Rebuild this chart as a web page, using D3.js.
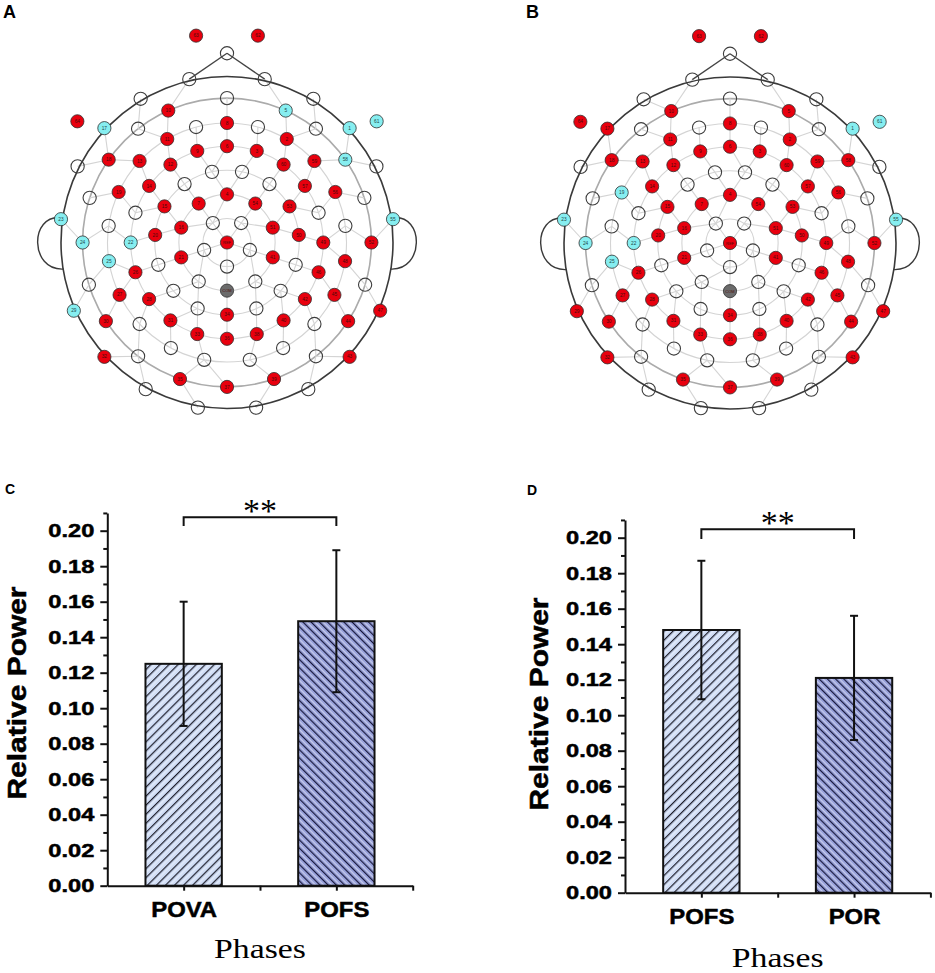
<!DOCTYPE html>
<html>
<head>
<meta charset="utf-8">
<script src="https://cdn.jsdelivr.net/npm/d3@7"></script>
<style>
  body { margin: 0; background: #fff; }
  svg { display: block; }
</style>
</head>
<body>
<div id="fig"></div>
<script>
const W = 935, H = 973;

// ---- electrode montage (ring index -> [label, angle in degrees from nose, clockwise]) ----
const ringRadius = [0, 0.145, 0.29, 0.435, 0.58, 0.72, 0.87, 1.01];
const ring0 = [["REF", 0]];
const ring1 = [["", -36], ["", 36], ["", 108], ["", 180], ["", -108]];
const ring2 = [["4", 0], ["54", 36], ["51", 72], ["41", 108], ["", 144], ["COM", 180],
  ["", -144], ["21", -108], ["16", -72], ["7", -36]];
const ring3 = [["", 12], ["", 36], ["53", 60], ["50", 84], ["", 108], ["", 132], ["", 156],
  ["34", 180], ["", -156], ["", -132], ["", -108], ["20", -84], ["15", -60], ["", -36], ["", -12]];
const ring4 = [["6", 0], ["3", 18], ["60", 36], ["57", 54], ["", 72], ["49", 90], ["46", 108],
  ["42", 126], ["40", 144], ["38", 162], ["36", 180], ["33", -162], ["31", -144], ["28", -126],
  ["26", -108], ["22", -90], ["", -72], ["14", -54], ["12", -36], ["9", -18]];
const ring5 = [["8", 0], ["", 15], ["2", 30], ["59", 47], ["56", 65], ["", 82], ["48", 99],
  ["45", 116], ["", 133], ["", 152], ["", 169], ["", -169], ["", -152], ["", -133], ["27", -116],
  ["25", -99], ["", -82], ["19", -65], ["13", -47], ["11", -30], ["", -15]];
const ring6 = [["", 0], ["5", 24], ["", 38], ["58", 55], ["", 72], ["52", 90], ["", 107],
  ["44", 123], ["", 142], ["39", 161], ["37", 180], ["35", -161], ["", -142], ["30", -123],
  ["", -107], ["24", -90], ["", -72], ["18", -55], ["", -38], ["10", -24]];
const ring7 = [["", 13], ["", 31], ["1", 47], ["", 63], ["55", 82], ["47", 114], ["43", 133],
  ["", 151], ["", 170], ["", -170], ["", -151], ["32", -133], ["29", -114], ["23", -82],
  ["", -63], ["17", -47], ["", -31], ["", -13]];
// sites outside the head: [label, angle, radius]
const outerSites = [["", 0, 1.14], ["62", 8.5, 1.26], ["63", -8.5, 1.26], ["61", 51, 1.16], ["64", -51, 1.16]];

// electrodes marked cyan in each map (all other numbered sites are red)
const cyanA = ["1", "5", "17", "22", "23", "24", "25", "29", "55", "58", "61"];
const cyanB = ["1", "19", "22", "23", "24", "25", "55", "61"];

// ---- bar data ----
const phasesC = ["POVA", "POFS"];
const powerC = [0.125, 0.149];
const sdC = [0.035, 0.040];
const phasesD = ["POFS", "POR"];
const powerD = [0.148, 0.121];
const sdD = [0.039, 0.035];
const yTickVals = [0, 0.02, 0.04, 0.06, 0.08, 0.10, 0.12, 0.14, 0.16, 0.18, 0.20];
const yMinorVals = [0.01, 0.03, 0.05, 0.07, 0.09, 0.11, 0.13, 0.15, 0.17, 0.19, 0.21];

const svg = d3.select("#fig").append("svg").attr("width", W).attr("height", H);

const rings = [ring0, ring1, ring2, ring3, ring4, ring5, ring6, ring7];
const sites = [];
rings.forEach((ring, k) => ring.forEach(([label, angle]) =>
  sites.push({ label, angle, r: ringRadius[k], ring: k })));
outerSites.forEach(([label, angle, r]) => sites.push({ label, angle, r, ring: 8 }));

function drawHead(cx, cy, cyan, letter, lx) {
  const R = 166;
  const hx = d3.scaleLinear().domain([-1, 1]).range([cx - R, cx + R]);
  const hy = d3.scaleLinear().domain([-1, 1]).range([cy - R, cy + R]);
  const px = (d) => hx(d.r * Math.sin(d.angle * Math.PI / 180));
  const py = (d) => hy(-d.r * Math.cos(d.angle * Math.PI / 180));
  const g = svg.append("g");

  g.selectAll("circle.ring")
    .data(ringRadius.slice(1, 7))
    .enter().append("circle")
    .attr("cx", hx(0)).attr("cy", hy(0))
    .attr("r", (r) => hx(r) - hx(0))
    .attr("fill", "none")
    .attr("stroke", (r, i) => i === 5 ? "#ababab" : "#d4d4d4")
    .attr("stroke-width", (r, i) => i === 5 ? 1.6 : 1.1);

  // spokes: every site to the closest site of the ring just inside it
  const links = [];
  sites.filter((s) => s.ring >= 1 && s.ring <= 7).forEach((s) => {
    let best = null, bd = Infinity;
    sites.filter((t) => t.ring === s.ring - 1).forEach((t) => {
      const dd = Math.hypot(px(s) - px(t), py(s) - py(t));
      if (dd < bd) { bd = dd; best = t; }
    });
    links.push([s, best]);
  });
  g.selectAll("line.spoke")
    .data(links)
    .enter().append("line")
    .attr("x1", (d) => px(d[0])).attr("y1", (d) => py(d[0]))
    .attr("x2", (d) => px(d[1])).attr("y2", (d) => py(d[1]))
    .attr("stroke", "#d4d4d4").attr("stroke-width", 1.1);

  // nose
  const nose = sites.find((s) => s.ring === 8 && s.label === "");
  const noseFeet = sites.filter((s) => s.ring === 7 && Math.abs(s.angle) === 13);
  g.selectAll("line.nose")
    .data(noseFeet)
    .enter().append("line")
    .attr("x1", (d) => px(d)).attr("y1", (d) => py(d))
    .attr("x2", px(nose)).attr("y2", py(nose))
    .attr("stroke", "#444").attr("stroke-width", 1.3);

  g.append("circle")
    .attr("cx", hx(0)).attr("cy", hy(0)).attr("r", R)
    .attr("fill", "none").attr("stroke", "#3a3a3a").attr("stroke-width", 1.6);

  [-1, 1].forEach((side) => {
    const p = d3.path();
    p.moveTo(hx(side * 1.0), hy(-0.15));
    p.bezierCurveTo(hx(side * 1.19), hy(-0.17), hx(side * 1.19), hy(0.17), hx(side * 0.985), hy(0.16));
    g.append("path").attr("d", p.toString())
      .attr("fill", "none").attr("stroke", "#3a3a3a").attr("stroke-width", 1.4);
  });

  const fillOf = (d) => {
    if (d.label === "") return "none";
    if (d.label === "COM") return "#6b6b6b";
    return cyan.includes(d.label) ? "#86eef0" : "#e8000e";
  };

  g.selectAll("circle.site")
    .data(sites)
    .enter().append("circle")
    .attr("cx", px).attr("cy", py).attr("r", 6.6)
    .attr("fill", fillOf)
    .attr("stroke", (d) => d.label === "" ? "#3d3d3d" : "#2e2e2e")
    .attr("stroke-width", (d) => d.label === "" ? 1.1 : 0.8);

  g.selectAll("text.site")
    .data(sites.filter((s) => s.label !== ""))
    .enter().append("text")
    .attr("x", px).attr("y", (d) => py(d) + 1.6)
    .attr("text-anchor", "middle")
    .attr("font-family", "Liberation Sans, Arial, sans-serif")
    .attr("font-size", (d) => d.label.length > 2 ? 4 : 4.8)
    .attr("fill", (d) => cyan.includes(d.label) ? "#1d4a4c" : "#4a0a0a")
    .text((d) => d.label);

  svg.append("text")
    .attr("x", lx).attr("y", 18)
    .attr("font-family", "Liberation Sans, Arial, sans-serif")
    .attr("font-weight", "bold").attr("font-size", 18)
    .text(letter);
}

drawHead(227, 242.5, cyanA, "A", 3);
drawHead(730, 243, cyanB, "B", 526);

// ---- hatch patterns ----
const defs = svg.append("defs");
function hatch(id, bg, ink, size, angle) {
  const p = defs.append("pattern").attr("id", id)
    .attr("patternUnits", "userSpaceOnUse")
    .attr("width", size).attr("height", size)
    .attr("patternTransform", `rotate(${angle})`);
  p.append("rect").attr("width", size).attr("height", size).attr("fill", bg);
  p.append("line").attr("x1", size * 0.55).attr("x2", size * 0.55).attr("y1", 0).attr("y2", size)
    .attr("stroke", "#ffffff").attr("stroke-width", 1).attr("opacity", 0.55);
  p.append("line").attr("x1", 0.6).attr("x2", 0.6).attr("y1", 0).attr("y2", size)
    .attr("stroke", ink).attr("stroke-width", 1.2);
}
hatch("hatchLight", "#cfdcf5", "#1e1e2a", 6.4, 45);
hatch("hatchDark", "#98a1da", "#16163a", 5.8, -45);

function stretch(sel, k) {
  sel.each(function () {
    const w = this.getComputedTextLength();
    d3.select(this).attr("textLength", w * k).attr("lengthAdjust", "spacingAndGlyphs");
  });
}

function drawBars(o) {
  const g = svg.append("g");
  const y = d3.scaleLinear().domain([0, 0.21]).range([o.base, o.base - 372.75]);
  const x = d3.scaleLinear().domain([0.5, 2.5]).range([o.left, o.left + 305.4]);
  const idx = [1, 2];

  g.selectAll("rect.bar")
    .data(o.vals)
    .enter().append("rect")
    .attr("x", (d, i) => x(idx[i] - 0.25))
    .attr("width", x(1.25) - x(0.75))
    .attr("y", (d) => y(d))
    .attr("height", (d) => y(0) - y(d))
    .attr("fill", (d, i) => i === 0 ? "url(#hatchLight)" : "url(#hatchDark)")
    .attr("stroke", "#111").attr("stroke-width", 2);

  const eb = g.selectAll("g.err").data(o.vals).enter().append("g");
  eb.append("line")
    .attr("x1", (d, i) => x(idx[i])).attr("x2", (d, i) => x(idx[i]))
    .attr("y1", (d, i) => y(d - o.errs[i])).attr("y2", (d, i) => y(d + o.errs[i]));
  eb.append("line")
    .attr("x1", (d, i) => x(idx[i]) - 4).attr("x2", (d, i) => x(idx[i]) + 4)
    .attr("y1", (d, i) => y(d + o.errs[i])).attr("y2", (d, i) => y(d + o.errs[i]));
  eb.append("line")
    .attr("x1", (d, i) => x(idx[i]) - 4).attr("x2", (d, i) => x(idx[i]) + 4)
    .attr("y1", (d, i) => y(d - o.errs[i])).attr("y2", (d, i) => y(d - o.errs[i]));
  eb.selectAll("line").attr("stroke", "#111").attr("stroke-width", 2);

  // axes
  const ya = g.append("g").attr("transform", `translate(${x(0.5)},0)`)
    .call(d3.axisLeft(y).tickValues(yTickVals).tickFormat(d3.format(".2f"))
      .tickSize(7).tickPadding(6).tickSizeOuter(0));
  g.append("g").attr("transform", `translate(${x(0.5)},0)`)
    .call(d3.axisLeft(y).tickValues(yMinorVals).tickFormat("").tickSize(4).tickSizeOuter(0))
    .select(".domain").remove();
  const xa = g.append("g").attr("transform", `translate(0,${y(0)})`)
    .call(d3.axisBottom(x).tickValues(idx).tickFormat((d, i) => o.cats[i])
      .tickSize(5).tickPadding(11).tickSizeOuter(0));
  g.append("g").attr("transform", `translate(0,${y(0)})`)
    .call(d3.axisBottom(x).tickValues([1.5, 2.5]).tickFormat("").tickSize(5).tickSizeOuter(0))
    .select(".domain").remove();
  g.selectAll(".domain, .tick line").attr("stroke", "#111").attr("stroke-width", 2);

  ya.selectAll("text")
    .attr("font-family", "Liberation Sans, Arial, sans-serif")
    .attr("font-weight", "bold").attr("font-size", 18.6)
    .attr("fill", "#000").attr("stroke", "#000").attr("stroke-width", 0.5);
  stretch(ya.selectAll("text"), 1.27);
  xa.selectAll("text")
    .attr("font-family", "Liberation Sans, Arial, sans-serif")
    .attr("font-weight", "bold").attr("font-size", 21.9)
    .attr("fill", "#000").attr("stroke", "#000").attr("stroke-width", 0.5);
  stretch(xa.selectAll("text"), 1.09);

  const yt = g.append("text")
    .attr("transform", `translate(${o.titleX},${o.titleY}) rotate(-90)`)
    .attr("text-anchor", "middle")
    .attr("font-family", "Liberation Sans, Arial, sans-serif")
    .attr("font-weight", "bold").attr("font-size", 26.5)
    .attr("stroke", "#000").attr("stroke-width", 0.5)
    .text("Relative Power");
  stretch(yt, 1.13);

  const xt = g.append("text")
    .attr("x", x(1.5)).attr("y", o.phasesY)
    .attr("text-anchor", "middle")
    .attr("font-family", "Liberation Serif, Times New Roman, serif")
    .attr("font-size", 27)
    .text("Phases");
  stretch(xt, 1.25);

  // significance bracket
  const br = d3.path();
  br.moveTo(x(1), y(o.sigFoot));
  br.lineTo(x(1), y(o.sigLevel));
  br.lineTo(x(2), y(o.sigLevel));
  br.lineTo(x(2), y(o.sigFoot));
  g.append("path").attr("d", br.toString())
    .attr("fill", "none").attr("stroke", "#111").attr("stroke-width", 2);
  g.append("text")
    .attr("x", x(1.5)).attr("y", y(o.sigLevel) + 4.7)
    .attr("text-anchor", "middle")
    .attr("font-family", "Liberation Serif, Times New Roman, serif")
    .attr("font-size", 34)
    .text("**");

  g.append("text")
    .attr("x", o.letterX).attr("y", o.letterY)
    .attr("font-family", "Liberation Sans, Arial, sans-serif")
    .attr("font-weight", "bold").attr("font-size", 14)
    .text(o.letter);
}

drawBars({
  cats: phasesC, vals: powerC, errs: sdC,
  left: 107.3, base: 885.7,
  sigLevel: 0.2076, sigFoot: 0.2027,
  titleX: 26, titleY: 693, phasesY: 958,
  letter: "C", letterX: 5, letterY: 493.5
});
drawBars({
  cats: phasesD, vals: powerD, errs: sdD,
  left: 625, base: 892.7,
  sigLevel: 0.2047, sigFoot: 0.1993,
  titleX: 548, titleY: 704, phasesY: 966.5,
  letter: "D", letterX: 527, letterY: 495
});
</script>
</body>
</html>
